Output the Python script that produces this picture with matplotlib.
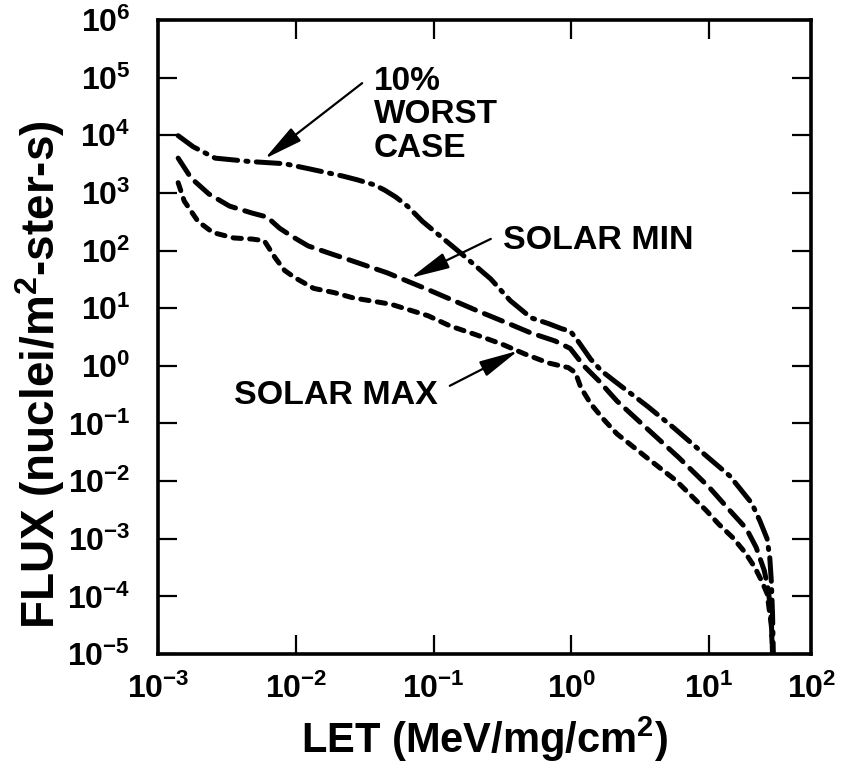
import numpy as np
import matplotlib.pyplot as plt

plt.rcParams['font.family'] = 'Liberation Sans'
plt.rcParams['font.weight'] = 'bold'
plt.rcParams['mathtext.fontset'] = 'custom'
plt.rcParams['mathtext.rm'] = 'Liberation Sans:bold'
plt.rcParams['mathtext.it'] = 'Liberation Sans:bold'
plt.rcParams['mathtext.bf'] = 'Liberation Sans:bold'
plt.rcParams['lines.scale_dashes'] = False

# LET spectra (MeV/mg/cm^2) vs integral flux (nuclei/m^2-ster-s)
worst_let = [1.4e-3, 1.8e-3, 2.6e-3, 4.6e-3, 8.3e-3, 1.26e-2, 2.2e-2, 2.8e-2, 3.7e-2, 4.4e-2,
             5.3e-2, 6.5e-2, 8.3e-2, 0.16, 0.26, 0.36, 0.51, 0.68, 0.85, 0.98, 1.08, 1.38,
             1.66, 2.04, 3.55, 5.5, 9.1, 14.1, 20.4, 23.4, 26.3, 27.5, 28.2, 28.8, 29.2]
worst_flux = [9.8e3, 6.3e3, 4.0e3, 3.5e3, 3.2e3, 2.6e3, 1.95e3, 1.68e3, 1.38e3, 1.12e3,
              850, 580, 320, 87, 32, 13.5, 6.8, 5.4, 4.4, 4.0, 3.0, 1.3,
              0.81, 0.55, 0.20, 0.085, 0.030, 0.0123, 0.0041, 0.002, 0.001, 4.7e-4, 1.9e-4, 5e-5, 1e-5]

min_let = [1.4e-3, 1.74e-3, 2.34e-3, 3.3e-3, 4.8e-3, 6.2e-3, 7.6e-3, 9.3e-3, 1.23e-2,
           1.82e-2, 2.57e-2, 4.6e-2, 9.1e-2, 0.21, 0.35, 0.51, 0.76, 0.98, 1.23, 1.58,
           2.14, 3.47, 6.0, 10.0, 14.1, 18.6, 21.9, 25.1, 26.9, 28.2, 28.8]
min_flux = [4.0e3, 1.8e3, 955, 590, 447, 380, 245, 178, 120,
            87, 66, 41, 21, 8.9, 5.4, 3.7, 2.7, 2.0, 1.0, 0.55,
            0.245, 0.085, 0.0257, 0.0078, 0.0031, 0.0015, 7.1e-4, 2.8e-4, 1.26e-4, 4e-5, 1e-5]

max_let = [1.4e-3, 1.55e-3, 1.95e-3, 2.5e-3, 3.55e-3, 4.8e-3, 5.9e-3, 7.1e-3, 8.3e-3,
           9.8e-3, 1.35e-2, 1.9e-2, 2.6e-2, 4.9e-2, 9.1e-2, 0.132, 0.2, 0.31, 0.46,
           0.68, 0.95, 1.07, 1.17, 1.38, 1.7, 2.14, 2.75, 3.6, 5.75, 9.5, 11.7, 14.8,
           18.2, 21.4, 24.0, 26.3, 28.2, 28.8]
max_flux = [1.5e3, 720, 320, 205, 165, 158, 148, 74, 45,
            34, 22, 18.6, 15.1, 11.7, 7.4, 4.9, 3.5, 2.4, 1.6,
            1.12, 0.93, 0.76, 0.42, 0.22, 0.12, 0.066, 0.041, 0.0245, 0.0102, 0.0031, 0.0018, 0.00105,
            5.8e-4, 3.2e-4, 1.86e-4, 1.12e-4, 3.2e-5, 1e-5]

x_right = 10 ** 1.74
x_ticks = [1e-3, 1e-2, 1e-1, 1e0, 1e1, x_right]
x_labels = ['$10^{-3}$', '$10^{-2}$', '$10^{-1}$', '$10^{0}$', '$10^{1}$', '$10^{2}$']
y_exps = list(range(-5, 7))

fig = plt.figure(figsize=(8.45, 7.65), dpi=100)
ax = fig.add_axes([0.187, 0.145, 0.773, 0.829])

lw = 3.6
ax.plot(worst_let, worst_flux, color='black', lw=lw, dashes=(17, 6, 1.5, 6),
        dash_capstyle='round', solid_joinstyle='round')
ax.plot(min_let, min_flux, color='black', lw=lw, dashes=(14, 7),
        dash_capstyle='round')
ax.plot(max_let, max_flux, color='black', lw=lw, dashes=(6, 6),
        dash_capstyle='round')

ax.set_xscale('log')
ax.set_yscale('log')
ax.set_xlim(1e-3, x_right)
ax.set_ylim(1e-5, 1e6)
ax.set_xticks(x_ticks, x_labels)
ax.set_yticks([10.0 ** e for e in y_exps], ['$10^{%d}$' % e for e in y_exps])
ax.minorticks_off()
ax.tick_params(which='major', direction='in', length=14, width=1.6,
               top=True, right=True, labelsize=23)
ax.tick_params(axis='y', pad=20)
ax.tick_params(axis='x', pad=14)
for s in ax.spines.values():
    s.set_linewidth(2.6)

ax.set_xlabel('LET (MeV/mg/cm$^{2}$)', fontsize=30, fontweight='bold')
ax.set_ylabel('FLUX (nuclei/m$^{2}$-ster-s)', fontsize=33, fontweight='bold')
ax.xaxis.set_label_coords(0.5, -0.095)
ax.yaxis.set_label_coords(-0.14, 0.44)

arrow = dict(arrowstyle='-|>,head_length=1.2,head_width=0.25', color='black',
             lw=1.6, shrinkA=0, shrinkB=0, mutation_scale=20)
ax.annotate('', xy=(5.94e-3, 3.9e3), xytext=(0.0303, 8e4), arrowprops=arrow)
ax.text(0.037, 1.6e5, '10%\nWORST\nCASE', fontsize=24, fontweight='bold',
        ha='left', va='top', linespacing=1.1)

ax.annotate('', xy=(0.068, 33.5), xytext=(0.26, 159), arrowprops=arrow)
ax.text(0.32, 147, 'SOLAR MIN', fontsize=24.5, fontweight='bold', ha='left', va='center')

ax.annotate('', xy=(0.41, 1.82), xytext=(0.131, 0.45), arrowprops=arrow)
ax.text(0.107, 0.30, 'SOLAR MAX', fontsize=24.5, fontweight='bold', ha='right', va='center')

fig.savefig('out.png', dpi=100)
